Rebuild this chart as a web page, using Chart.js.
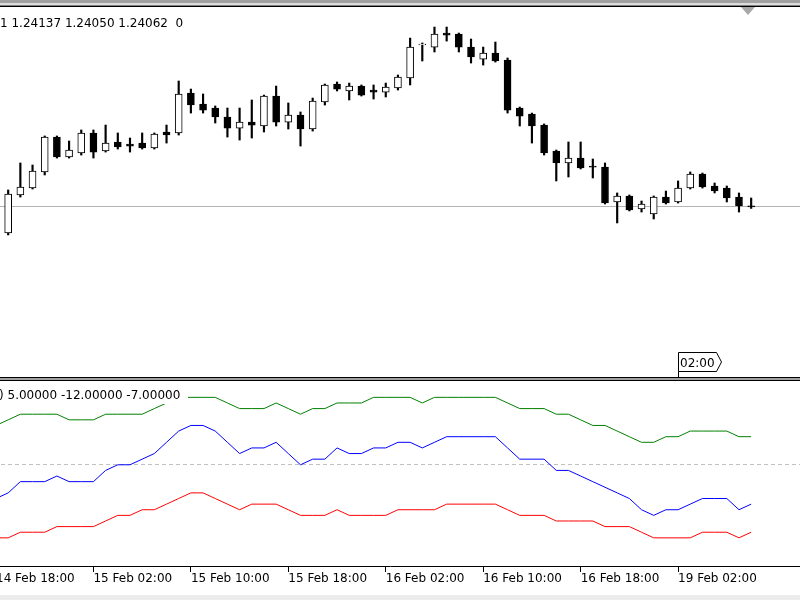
<!DOCTYPE html>
<html>
<head>
<meta charset="utf-8">
<script src="https://cdn.jsdelivr.net/npm/chart.js"></script>
<style>
  html, body { margin: 0; padding: 0; background: #fff; }
  body { width: 800px; height: 600px; overflow: hidden; position: relative; }
  .rule { position: absolute; left: 0; width: 800px; }
  canvas { position: absolute; left: -20px; }
  #overlay { position: absolute; left: 0; top: 0; }
</style>
</head>
<body>
<div class="rule" style="top:0;height:3px;background:#a0a0a0"></div>
<div class="rule" style="top:3px;height:2px;background:#dcdcdc"></div>
<div class="rule" style="top:5px;height:1px;background:#808080"></div>
<div class="rule" style="top:6px;height:1px;background:#000"></div>
<canvas id="price" width="820" height="370" style="top:7px"></canvas>
<div class="rule" style="top:377px;height:1px;background:#000"></div>
<div class="rule" style="top:378px;height:2px;background:#a0a0a0"></div>
<div class="rule" style="top:380px;height:1px;background:#000"></div>
<canvas id="ind" width="820" height="219" style="top:381px"></canvas>
<div class="rule" style="top:595px;height:5px;background:#ececec"></div>

<svg id="overlay" width="800" height="600" font-family="DejaVu Sans" font-size="12">
  <text x="0" y="27" fill="#000" style="white-space:pre">1 1.24137 1.24050 1.24062  0</text>
  <polygon points="741,7 755,7 748,15" fill="#a8a8a8"/>
  <polygon points="678.5,352.5 716.5,352.5 721.5,362 716.5,371.5 678.5,371.5" fill="#fff" stroke="#000" stroke-width="1"/>
  <line x1="678.5" y1="371.5" x2="678.5" y2="377" stroke="#000" stroke-width="1"/>
  <text x="680" y="367" fill="#000">02:00</text>
  <rect x="0" y="386" width="188" height="18" fill="#fff"/>
  <text x="-1" y="399" fill="#000">) 5.00000 -12.00000 -7.00000</text>
</svg>

<script>
// H1 candles, bar 0 sits just off the left edge
const opens = [null,
  1.23845, 1.24162, 1.24220, 1.24354, 1.24645, 1.24479, 1.24512, 1.24679, 1.24529, 1.24604,
  1.24587, 1.24595, 1.24554, 1.24687, 1.24679, 1.25012, 1.24920, 1.24887, 1.24812, 1.24720,
  1.24770, 1.24737, 1.24987, 1.24770, 1.24829, 1.24712, 1.24937, 1.25087, 1.25029, 1.25070,
  1.25037, 1.25020, 1.25054, 1.25137, 1.25412, 1.25395, 1.25512, 1.25504, 1.25395, 1.25295,
  1.25345, 1.25287, 1.24887, 1.24837, 1.24745, 1.24529, 1.24429, 1.24470, 1.24404, 1.24395,
  1.24104, 1.24154, 1.24045, 1.24004, 1.24145, 1.24104, 1.24220, 1.24337, 1.24237, 1.24220,
  1.24145, 1.24071];
const highs = [null,
  1.24204, 1.24429, 1.24412, 1.24654, 1.24654, 1.24612, 1.24704, 1.24704, 1.24745, 1.24679,
  1.24637, 1.24679, 1.24679, 1.24745, 1.25112, 1.25045, 1.25004, 1.24904, 1.24887, 1.24887,
  1.24954, 1.24995, 1.25070, 1.24929, 1.24854, 1.24970, 1.25087, 1.25104, 1.25095, 1.25079,
  1.25079, 1.25095, 1.25162, 1.25470, 1.25429, 1.25562, 1.25562, 1.25512, 1.25462, 1.25395,
  1.25437, 1.25304, 1.24895, 1.24845, 1.24754, 1.24537, 1.24604, 1.24604, 1.24462, 1.24429,
  1.24179, 1.24162, 1.24112, 1.24154, 1.24195, 1.24279, 1.24354, 1.24345, 1.24262, 1.24237,
  1.24179, 1.24137];
const lows = [null,
  1.23829, 1.24145, 1.24212, 1.24329, 1.24470, 1.24470, 1.24495, 1.24470, 1.24520, 1.24545,
  1.24520, 1.24545, 1.24545, 1.24595, 1.24662, 1.24845, 1.24845, 1.24762, 1.24645, 1.24620,
  1.24637, 1.24687, 1.24737, 1.24712, 1.24570, 1.24695, 1.24912, 1.25029, 1.24954, 1.24987,
  1.24962, 1.24979, 1.25037, 1.25079, 1.25279, 1.25354, 1.25445, 1.25354, 1.25262, 1.25245,
  1.25270, 1.24845, 1.24737, 1.24595, 1.24495, 1.24279, 1.24312, 1.24379, 1.24304, 1.24087,
  1.23929, 1.24029, 1.24020, 1.23962, 1.24087, 1.24095, 1.24212, 1.24220, 1.24179, 1.24104,
  1.24020, 1.24050];
const closes = [null,
  1.24170, 1.24229, 1.24362, 1.24645, 1.24479, 1.24537, 1.24679, 1.24520, 1.24595, 1.24562,
  1.24570, 1.24554, 1.24670, 1.24662, 1.25004, 1.24912, 1.24870, 1.24812, 1.24720, 1.24770,
  1.24745, 1.24987, 1.24770, 1.24829, 1.24712, 1.24945, 1.25079, 1.25045, 1.25070, 1.24995,
  1.25020, 1.25062, 1.25145, 1.25395, 1.25420, 1.25504, 1.25495, 1.25395, 1.25312, 1.25345,
  1.25279, 1.24870, 1.24820, 1.24737, 1.24512, 1.24429, 1.24470, 1.24387, 1.24395, 1.24095,
  1.24154, 1.24037, 1.24087, 1.24145, 1.24095, 1.24220, 1.24337, 1.24229, 1.24195, 1.24137,
  1.24070, 1.24062];

// indicator sub window (green, red, blue)
const greenLine = [7, 8, 9, 9, 9, 9, 8, 8, 8, 9, 9, 9, 9, 10, 11, 12, 12, 12, 12, 11,
  10, 10, 10, 11, 10, 9, 10, 10, 11, 11, 11, 12, 12, 12, 12, 11, 12, 12, 12, 12,
  12, 12, 11, 10, 10, 10, 9, 9, 8, 7, 7, 6, 5, 4, 4, 5, 5, 6, 6, 6, 6, 5, 5];
const redLine = [-13, -13, -12, -12, -12, -11, -11, -11, -11, -10, -9, -9, -8, -8, -7, -6, -5, -5, -6, -7,
  -8, -7, -7, -7, -8, -9, -9, -9, -8, -9, -9, -9, -9, -8, -8, -8, -8, -7, -7, -7,
  -7, -7, -8, -9, -9, -9, -10, -10, -10, -10, -11, -11, -11, -12, -13, -13, -13, -13, -12, -12, -12, -13, -12];
const blueLine = [-6, -5, -3, -3, -3, -2, -3, -3, -3, -1, 0, 0, 1, 2, 4, 6, 7, 7, 6, 4,
  2, 3, 3, 4, 2, 0, 1, 1, 3, 2, 2, 3, 3, 4, 4, 3, 4, 5, 5, 5,
  5, 5, 3, 1, 1, 1, -1, -1, -2, -3, -4, -5, -6, -8, -9, -8, -8, -7, -6, -6, -6, -8, -7];

const bidPrice = 1.24062;
const levelValue = 0;

const tickBars = [0, 8, 16, 24, 32, 40, 48, 56];
const tickLabels = ['14 Feb 18:00', '15 Feb 02:00', '15 Feb 10:00', '15 Feb 18:00',
  '16 Feb 02:00', '16 Feb 10:00', '16 Feb 18:00', '19 Feb 02:00'];

// visible windows
const priceMin = 1.22645, priceMax = 1.25729;
const indMin = -18.01, indMax = 14.91;
const barStep = 12.18;
const xMin = -16 / barStep;
const xMax = xMin + 820 / barStep;

const font = { family: 'DejaVu Sans', size: 12 };

const idx = opens.map((o, i) => i).filter(i => opens[i] !== null);
const bodyData = idx.map(i => ({ x: i, y: [opens[i], closes[i]] }));
const bodyFill = idx.map(i => closes[i] >= opens[i] ? '#ffffff' : '#000000');
const wickData = idx.map(i => ({ x: i, y: [lows[i], highs[i]] }));

function xAxis(show) {
  const axis = {
    type: 'linear', min: xMin, max: xMax, bounds: 'data', offset: false, display: show,
    grid: { offset: false, drawOnChartArea: false }
  };
  if (!show) return axis;
  return Object.assign(axis, {
    afterBuildTicks: s => { s.ticks = tickBars.map(v => ({ value: v })); },
    afterFit: s => { s.height = 34; },
    ticks: {
      autoSkip: false, maxRotation: 0, align: 'start', padding: 0, color: '#000', font: font,
      callback: (v, i) => tickLabels[i]
    },
    grid: { offset: false, drawOnChartArea: false, drawTicks: true, tickLength: 6, color: '#000', tickColor: '#000' },
    border: { display: true, color: '#000', width: 1 }
  });
}

function hLine(id, axis, value, color, dash) {
  return {
    id: id,
    beforeDatasetsDraw(chart) {
      const { ctx, chartArea } = chart;
      const y = Math.floor(chart.scales[axis].getPixelForValue(value)) + 0.5;
      ctx.save();
      ctx.strokeStyle = color;
      ctx.lineWidth = 1;
      ctx.setLineDash(dash);
      ctx.beginPath();
      ctx.moveTo(chartArea.left, y);
      ctx.lineTo(chartArea.right, y);
      ctx.stroke();
      ctx.restore();
    }
  };
}

const common = {
  responsive: false, animation: false, devicePixelRatio: 1, events: [],
  layout: { padding: 0 },
  plugins: { legend: { display: false }, tooltip: { enabled: false } }
};

new Chart(document.getElementById('price'), {
  type: 'bar',
  data: {
    datasets: [
      { data: bodyData, backgroundColor: bodyFill, borderColor: '#000', borderWidth: 1,
        borderSkipped: false, barThickness: 7, grouped: false, order: 0 },
      { data: wickData, backgroundColor: '#000', borderWidth: 0,
        barThickness: 1.5, grouped: false, order: 1 }
    ]
  },
  options: Object.assign({}, common, {
    scales: {
      x: xAxis(false),
      y: { display: false, min: priceMin, max: priceMax, beginAtZero: false }
    }
  }),
  plugins: [hLine('bid', 'y', bidPrice, '#b4b4b4', [])]
});

const lineSet = (vals, color) => ({
  data: vals.map((v, i) => ({ x: i, y: v })),
  borderColor: color, borderWidth: 1, pointRadius: 0, tension: 0, fill: false
});

new Chart(document.getElementById('ind'), {
  type: 'line',
  data: {
    datasets: [
      lineSet(greenLine, '#008000'),
      lineSet(redLine, '#ff0000'),
      lineSet(blueLine, '#0000ff')
    ]
  },
  options: Object.assign({}, common, {
    scales: {
      x: xAxis(true),
      y: { display: false, min: indMin, max: indMax }
    }
  }),
  plugins: [hLine('level', 'y', levelValue, '#c0c0c0', [4, 3])]
});
</script>
</body>
</html>
